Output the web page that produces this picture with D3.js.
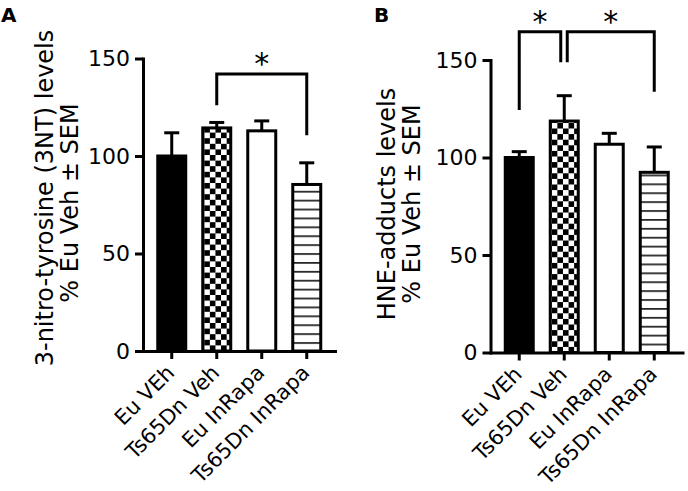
<!DOCTYPE html>
<html><head><meta charset="utf-8">
<script src="https://cdn.jsdelivr.net/npm/d3@7"></script>
<style>html,body{margin:0;padding:0;background:#fff}svg{display:block}</style>
</head><body><svg id="c" width="688" height="491"></svg>
<script>
// ---------- data ----------
const categories = ["Eu VEh", "Ts65Dn Veh", "Eu InRapa", "Ts65Dn InRapa"];
const nt3Mean = [100, 114.4, 112.9, 85.4];
const nt3Sem  = [11.9, 2.8, 5.1, 11.1];
const hneMean = [100, 118.7, 106.8, 92.4];
const hneSem  = [3.0, 13.0, 5.6, 13.0];
const yTicks = [0, 50, 100, 150];
const yTitleA = ["3-nitro-tyrosine (3NT) levels", "% Eu Veh \u00B1 SEM"];
const yTitleB = ["HNE-adducts levels", "% Eu Veh \u00B1 SEM"];
const panelLetters = ["A", "B"];
// significance brackets: categories joined, bracket top value, leg-end values
const sigA = [{from: 1, to: 3, top: 142, leftEnd: 126, rightEnd: 110.7, label: "*"}];
const sigB = [
  {from: 0, to: 1, top: 164.5, leftEnd: 124.4, rightEnd: 148.8, label: "*"},
  {from: 1, to: 3, top: 164.5, leftEnd: 148.8, rightEnd: 133.7, label: "*"}
];

// ---------- layout / style ----------
const FONT = "'DejaVu Sans', sans-serif";
const svg = d3.select("#c");
const defs = svg.append("defs");

const panels = [
  {letter: panelLetters[0], letterX: 1, axisX: 143, yBottom: 351, yTop: 58.5,
   title: yTitleA, titleX: [53, 78], titleY: [198, 203], mean: nt3Mean, sem: nt3Sem, sig: sigA},
  {letter: panelLetters[1], letterX: 374, axisX: 490.5, yBottom: 352.5, yTop: 60,
   title: yTitleB, titleX: [395, 420], titleY: [204, 204], mean: hneMean, sem: hneSem, sig: sigB}
];

function drawPanel(p) {
  const g = svg.append("g");
  const x = d3.scaleBand().domain(categories)
    .range([p.axisX - 1, p.axisX + 193.5]).paddingInner(0.378).paddingOuter(0.35);
  const y = d3.scaleLinear().domain([0, 150]).range([p.yBottom, p.yTop]);
  const bw = x.bandwidth();

  // patterns
  const cs = 5.6;
  const chk = defs.append("pattern").attr("id", "checker-" + p.letter)
    .attr("patternUnits", "userSpaceOnUse").attr("width", 2 * cs).attr("height", 2 * cs)
    .attr("x", x(categories[1]) + 1.5).attr("y", y(0));
  chk.append("rect").attr("width", 2 * cs).attr("height", 2 * cs).attr("fill", "#fff");
  chk.append("rect").attr("width", cs).attr("height", cs).attr("fill", "#000");
  chk.append("rect").attr("x", cs).attr("y", cs).attr("width", cs).attr("height", cs).attr("fill", "#000");

  const lh = 8.9;
  const hl = defs.append("pattern").attr("id", "hlines-" + p.letter)
    .attr("patternUnits", "userSpaceOnUse").attr("width", 10).attr("height", lh)
    .attr("x", 0).attr("y", y(0));
  hl.append("rect").attr("width", 10).attr("height", lh).attr("fill", "#fff");
  hl.append("rect").attr("y", 0.15).attr("width", 10).attr("height", 1.5).attr("fill", "#000");

  const fills = ["#000", `url(#checker-${p.letter})`, "#fff", `url(#hlines-${p.letter})`];

  // error bars
  const eb = g.append("g").attr("stroke", "#000").attr("stroke-width", 3).attr("fill", "none");
  categories.forEach((c, i) => {
    const cx = x(c) + bw / 2;
    const top = y(p.mean[i] + p.sem[i]);
    eb.append("line").attr("x1", cx).attr("x2", cx).attr("y1", y(p.mean[i])).attr("y2", top);
    eb.append("line").attr("x1", cx - 7.5).attr("x2", cx + 7.5).attr("y1", top).attr("y2", top);
  });

  // bars
  g.append("g").selectAll("rect").data(categories).join("rect")
    .attr("x", c => x(c))
    .attr("width", bw)
    .attr("y", (c, i) => y(p.mean[i]))
    .attr("height", (c, i) => y(0) - y(p.mean[i]))
    .attr("fill", (c, i) => fills[i])
    .attr("stroke", "#000").attr("stroke-width", 3);

  // y axis
  const ya = g.append("g").attr("transform", `translate(${p.axisX},0)`)
    .call(d3.axisLeft(y).tickValues(yTicks).tickSize(8).tickSizeOuter(0).tickPadding(5));
  ya.select(".domain").attr("stroke-width", 3).attr("stroke-linecap", "square");
  ya.selectAll(".tick line").attr("stroke-width", 3);
  ya.selectAll("text").attr("font-family", FONT).attr("font-size", 22).attr("fill", "#000");

  // x axis
  const xa = g.append("g").attr("transform", `translate(0,${y(0)})`)
    .call(d3.axisBottom(x).tickSize(8).tickSizeOuter(0).tickPadding(0));
  xa.select(".domain").attr("stroke-width", 3);
  xa.selectAll(".tick line").attr("stroke-width", 3);
  xa.selectAll("text").attr("font-family", FONT).attr("font-size", 21).attr("fill", "#000")
    .attr("x", 0).attr("y", 0).attr("dy", 0).attr("text-anchor", "end")
    .attr("transform", "translate(4,23) rotate(-45)");

  // y title
  p.title.forEach((t, i) => {
    g.append("text").text(t)
      .attr("transform", `translate(${p.titleX[i]},${p.titleY[i]}) rotate(-90)`)
      .attr("text-anchor", "middle").attr("font-family", FONT).attr("font-size", 24).attr("fill", "#000");
  });

  // panel letter
  g.append("text").text(p.letter).attr("x", p.letterX).attr("y", 22)
    .attr("font-family", FONT).attr("font-weight", "bold").attr("font-size", 20).attr("fill", "#000");

  // significance brackets
  const endCount = {};
  p.sig.forEach(s => { endCount[s.from] = (endCount[s.from] || 0) + 1; endCount[s.to] = (endCount[s.to] || 0) + 1; });
  p.sig.forEach(s => {
    let xl = x(categories[s.from]) + bw / 2;
    let xr = x(categories[s.to]) + bw / 2;
    if (endCount[s.from] > 1) xl += 3;
    if (endCount[s.to] > 1) xr -= 3.5;
    g.append("path")
      .attr("d", `M${xl},${y(s.leftEnd)}V${y(s.top)}H${xr}V${y(s.rightEnd)}`)
      .attr("fill", "none").attr("stroke", "#000").attr("stroke-width", 3);
    const fs = 30;
    const cy = y(s.top) - 17;
    g.append("text").text(s.label)
      .attr("x", (xl + xr) / 2).attr("y", cy + 0.565 * fs)
      .attr("text-anchor", "middle").attr("font-family", FONT).attr("font-size", fs).attr("fill", "#000");
  });
}

panels.forEach(drawPanel);
</script>
</body></html>
